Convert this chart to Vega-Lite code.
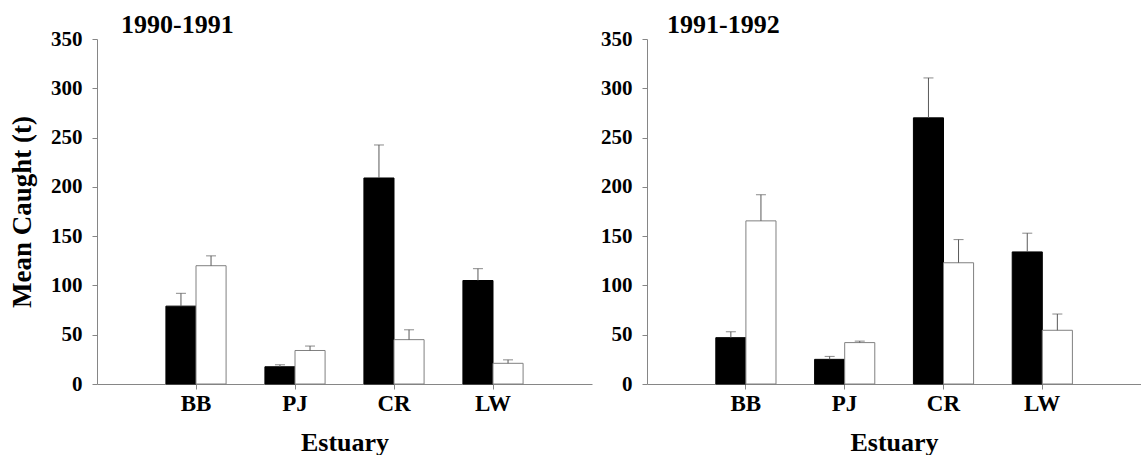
{
  "$schema": "https://vega.github.io/schema/vega-lite/v6.json",
  "background": "white",
  "padding": {"left": 8, "top": 12, "right": 0, "bottom": 0},
  "spacing": 8,
  "config": {
    "view": {"stroke": null},
    "font": "Liberation Serif",
    "axis": {
      "labelFont": "Liberation Serif", "labelFontWeight": "bold", "labelColor": "black",
      "titleFont": "Liberation Serif", "titleFontWeight": "bold", "titleColor": "black",
      "domainColor": "#868686", "tickColor": "#868686", "grid": false, "tickSize": 5
    },
    "title": {"font": "Liberation Serif", "fontWeight": "bold", "fontSize": 26, "color": "black", "anchor": "start", "frame": "group"}
  },
  "data": {"values": [
    {"period": "1990-1991", "estuary": "BB", "group": "a", "mean": 79, "upper": 92},
    {"period": "1990-1991", "estuary": "BB", "group": "b", "mean": 120, "upper": 130},
    {"period": "1990-1991", "estuary": "PJ", "group": "a", "mean": 17.5, "upper": 19.5},
    {"period": "1990-1991", "estuary": "PJ", "group": "b", "mean": 34, "upper": 38.5},
    {"period": "1990-1991", "estuary": "CR", "group": "a", "mean": 209, "upper": 242.5},
    {"period": "1990-1991", "estuary": "CR", "group": "b", "mean": 45, "upper": 55},
    {"period": "1990-1991", "estuary": "LW", "group": "a", "mean": 105, "upper": 117},
    {"period": "1990-1991", "estuary": "LW", "group": "b", "mean": 21, "upper": 24.5},
    {"period": "1991-1992", "estuary": "BB", "group": "a", "mean": 47, "upper": 53},
    {"period": "1991-1992", "estuary": "BB", "group": "b", "mean": 165.5, "upper": 192},
    {"period": "1991-1992", "estuary": "PJ", "group": "a", "mean": 25, "upper": 28},
    {"period": "1991-1992", "estuary": "PJ", "group": "b", "mean": 42, "upper": 43.5},
    {"period": "1991-1992", "estuary": "CR", "group": "a", "mean": 270, "upper": 310.5},
    {"period": "1991-1992", "estuary": "CR", "group": "b", "mean": 123, "upper": 146.5},
    {"period": "1991-1992", "estuary": "LW", "group": "a", "mean": 134, "upper": 153},
    {"period": "1991-1992", "estuary": "LW", "group": "b", "mean": 54.5, "upper": 71}
  ]},
  "hconcat": [
    {
      "width": 495, "height": 345,
      "title": {"text": "1990-1991", "dx": 24, "offset": -10},
      "transform": [{"filter": "datum.period == '1990-1991'"}],
      "encoding": {
        "x": {"field": "estuary", "type": "nominal", "sort": ["BB", "PJ", "CR", "LW"],
          "scale": {"paddingInner": 0, "paddingOuter": 0.5},
          "axis": {"title": "Estuary", "labelAngle": 0, "labelFontSize": 23, "titleFontSize": 26, "labelPadding": 3, "titlePadding": 14}},
        "xOffset": {"field": "group", "type": "nominal", "sort": ["a", "b"], "scale": {"paddingInner": 0, "paddingOuter": 0.645}}
      },
      "layer": [
        {
          "mark": {"type": "bar", "strokeWidth": 1},
          "encoding": {
            "y": {"field": "mean", "type": "quantitative", "scale": {"domain": [0, 350]},
              "axis": {"title": "Mean Caught (t)", "values": [0, 50, 100, 150, 200, 250, 300, 350], "labelFontSize": 21, "titleFontSize": 27, "labelPadding": 10, "titlePadding": 14}},
            "fill": {"field": "group", "type": "nominal", "scale": {"domain": ["a", "b"], "range": ["#000000", "#ffffff"]}, "legend": null},
            "stroke": {"field": "group", "type": "nominal", "scale": {"domain": ["a", "b"], "range": ["#000000", "#808080"]}, "legend": null}
          }
        },
        {
          "mark": {"type": "rule", "color": "#595959", "strokeWidth": 1},
          "encoding": {"y": {"field": "mean", "type": "quantitative"}, "y2": {"field": "upper"}}
        },
        {
          "mark": {"type": "tick", "color": "#595959", "thickness": 1, "size": 10},
          "encoding": {"y": {"field": "upper", "type": "quantitative"}}
        }
      ]
    },
    {
      "width": 494, "height": 345,
      "title": {"text": "1991-1992", "dx": 20, "offset": -10},
      "transform": [{"filter": "datum.period == '1991-1992'"}],
      "encoding": {
        "x": {"field": "estuary", "type": "nominal", "sort": ["BB", "PJ", "CR", "LW"],
          "scale": {"paddingInner": 0, "paddingOuter": 0.5},
          "axis": {"title": "Estuary", "labelAngle": 0, "labelFontSize": 23, "titleFontSize": 26, "labelPadding": 3, "titlePadding": 14}},
        "xOffset": {"field": "group", "type": "nominal", "sort": ["a", "b"], "scale": {"paddingInner": 0, "paddingOuter": 0.645}}
      },
      "layer": [
        {
          "mark": {"type": "bar", "strokeWidth": 1},
          "encoding": {
            "y": {"field": "mean", "type": "quantitative", "scale": {"domain": [0, 350]},
              "axis": {"title": null, "values": [0, 50, 100, 150, 200, 250, 300, 350], "labelFontSize": 21, "labelPadding": 10}},
            "fill": {"field": "group", "type": "nominal", "scale": {"domain": ["a", "b"], "range": ["#000000", "#ffffff"]}, "legend": null},
            "stroke": {"field": "group", "type": "nominal", "scale": {"domain": ["a", "b"], "range": ["#000000", "#808080"]}, "legend": null}
          }
        },
        {
          "mark": {"type": "rule", "color": "#595959", "strokeWidth": 1},
          "encoding": {"y": {"field": "mean", "type": "quantitative"}, "y2": {"field": "upper"}}
        },
        {
          "mark": {"type": "tick", "color": "#595959", "thickness": 1, "size": 10},
          "encoding": {"y": {"field": "upper", "type": "quantitative"}}
        }
      ]
    }
  ]
}
